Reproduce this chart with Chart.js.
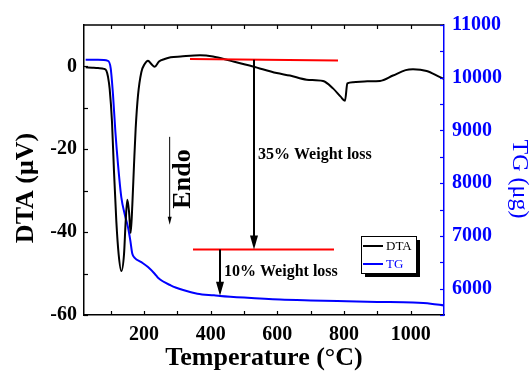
<!DOCTYPE html>
<html>
<head>
<meta charset="utf-8">
<script src="https://cdn.jsdelivr.net/npm/chart.js@4/dist/chart.umd.min.js"></script>
<style>
  html, body { margin: 0; padding: 0; background: #fff; }
  #wrap { width: 531px; height: 371px; }
</style>
</head>
<body>
<div id="wrap"><canvas id="c" width="531" height="371"></canvas></div>
<script>
// DTA curve (temperature in °C, signal in µV)
const dtaTemp = [25, 45, 62, 80, 87, 92, 97, 104, 110, 117, 124, 132, 140, 145, 150, 155, 160, 165, 170, 175, 182, 192, 202, 212, 222, 232, 245, 262, 280, 310, 368, 407, 458, 527, 598, 638, 688, 737, 767, 790, 803, 810, 827, 870, 908, 947, 985, 1007, 1048, 1088, 1100];
const dtaVal  = [-0.2, -0.3, -0.4, -0.6, -1.0, -2.5, -5.4, -13.4, -25.4, -37.4, -45.4, -49.4, -45.4, -37.4, -32.2, -35.0, -40.2, -33.4, -23.8, -15.0, -7.0, -1.4, 0.6, 1.4, 0.6, -0.1, 1.2, 1.8, 2.2, 2.4, 2.7, 2.4, 1.4, 0.0, -1.6, -2.2, -3.2, -3.5, -5.3, -7.3, -8.3, -4.1, -3.8, -3.6, -3.5, -2.2, -0.9, -0.7, -1.1, -2.6, -3.0];

// TG curve (temperature in °C, mass in µg)
const tgTemp = [25, 62, 92, 100, 107, 114, 122, 132, 142, 152, 159, 165, 172, 192, 212, 232, 242, 280, 320, 360, 410, 428, 500, 608, 700, 808, 900, 1007, 1060, 1100];
const tgVal  = [10340, 10340, 10320, 10183, 9680, 8987, 8358, 7730, 7415, 7164, 6911, 6660, 6585, 6503, 6409, 6283, 6208, 6062, 5968, 5905, 5873, 5862, 5830, 5792, 5775, 5760, 5748, 5735, 5715, 5680];

// red baselines (on TG axis)
const redUpperT = [338, 782];
const redUpperV = [10353, 10326];
const redLowerT = [347, 770];
const redLowerV = [6741, 6741];

// weight-loss arrows: [temperature, from TG, to TG]
const arrowLoss35 = [530, 10340, 6741];
const arrowLoss10 = [428, 6741, 5866];
// endo arrow on DTA axis: [temperature, from, to]
const arrowEndo = [277, -17, -38.2];

// ticks
const xMajor = [200, 400, 600, 800, 1000];
const xMinor = [100, 200, 300, 400, 500, 600, 700, 800, 900, 1000];
const yMajor = [-60, -40, -20, 0];
const yMinor = [-60, -50, -40, -30, -20, -10, 0];
const y1Major = [6000, 7000, 8000, 9000, 10000, 11000];
const y1Minor = [5500, 6000, 6500, 7000, 7500, 8000, 8500, 9000, 9500, 10000, 10500, 11000];

const SERIF = '"Liberation Serif", "Times New Roman", serif';
const BLUE = '#0000ff';

const toPts = (xs, ys) => xs.map((x, i) => ({ x: x, y: ys[i] }));

function arrowDown(ctx, x, y0, y1, w, headW, headL) {
  ctx.beginPath();
  ctx.moveTo(x, y0);
  ctx.lineTo(x, y1 - headL + 1);
  ctx.lineWidth = w;
  ctx.stroke();
  ctx.beginPath();
  ctx.moveTo(x, y1);
  ctx.lineTo(x - headW / 2, y1 - headL);
  ctx.lineTo(x + headW / 2, y1 - headL);
  ctx.closePath();
  ctx.fill();
}

const decorPlugin = {
  id: 'decor',
  afterDraw(chart) {
    const ctx = chart.ctx;
    const a = chart.chartArea;
    const xs = chart.scales.x, ys = chart.scales.y, y1s = chart.scales.y1;
    ctx.save();

    // top border
    ctx.strokeStyle = '#000';
    ctx.lineWidth = 1.5;
    ctx.beginPath();
    ctx.moveTo(a.left, a.top);
    ctx.lineTo(a.right, a.top);
    ctx.stroke();

    // inward ticks
    ctx.lineWidth = 1.2;
    xMinor.forEach(v => {
      const px = Math.round(xs.getPixelForValue(v)) + 0.5;
      ctx.beginPath();
      ctx.moveTo(px, a.bottom); ctx.lineTo(px, a.bottom - 4);
      ctx.moveTo(px, a.top); ctx.lineTo(px, a.top + 4);
      ctx.stroke();
    });
    yMinor.forEach(v => {
      const py = Math.round(ys.getPixelForValue(v)) + 0.5;
      ctx.beginPath();
      ctx.moveTo(a.left, py); ctx.lineTo(a.left + 4, py);
      ctx.stroke();
    });
    ctx.strokeStyle = BLUE;
    y1Minor.forEach(v => {
      const py = Math.round(y1s.getPixelForValue(v)) + 0.5;
      ctx.beginPath();
      ctx.moveTo(a.right, py); ctx.lineTo(a.right - 4, py);
      ctx.stroke();
    });

    // weight-loss arrows
    ctx.strokeStyle = '#000';
    ctx.fillStyle = '#000';
    arrowDown(ctx, xs.getPixelForValue(arrowLoss35[0]), y1s.getPixelForValue(arrowLoss35[1]),
      y1s.getPixelForValue(arrowLoss35[2]), 2, 8, 14);
    arrowDown(ctx, xs.getPixelForValue(arrowLoss10[0]), y1s.getPixelForValue(arrowLoss10[1]),
      y1s.getPixelForValue(arrowLoss10[2]), 2, 8, 14);
    arrowDown(ctx, xs.getPixelForValue(arrowEndo[0]), ys.getPixelForValue(arrowEndo[1]),
      ys.getPixelForValue(arrowEndo[2]), 1, 4, 8);

    // annotations
    ctx.fillStyle = '#000';
    ctx.textAlign = 'left';
    ctx.textBaseline = 'alphabetic';
    ctx.font = 'bold 16px ' + SERIF;
    ctx.fillText('35% Weight loss', 258, 159);
    ctx.fillText('10% Weight loss', 224, 276);

    ctx.save();
    ctx.translate(190, 179);
    ctx.rotate(-Math.PI / 2);
    ctx.textAlign = 'center';
    ctx.font = 'bold 26px ' + SERIF;
    ctx.fillText('Endo', 0, 0);
    ctx.restore();

    // legend box with shadow
    const lx = 361, ly = 236, lw = 55, lh = 37;
    ctx.fillStyle = '#000';
    ctx.fillRect(lx + 4, ly + 4, lw, lh);
    ctx.fillStyle = '#fff';
    ctx.fillRect(lx, ly, lw, lh);
    ctx.strokeStyle = '#000';
    ctx.lineWidth = 1;
    ctx.strokeRect(lx + 0.5, ly + 0.5, lw, lh);
    ctx.lineWidth = 2;
    ctx.beginPath(); ctx.moveTo(363, 246); ctx.lineTo(383, 246); ctx.stroke();
    ctx.strokeStyle = BLUE;
    ctx.beginPath(); ctx.moveTo(363, 264); ctx.lineTo(383, 264); ctx.stroke();
    ctx.font = '13px ' + SERIF;
    ctx.fillStyle = '#000';
    ctx.fillText('DTA', 386, 250);
    ctx.fillStyle = BLUE;
    ctx.fillText('TG', 386, 268);

    // axis titles
    ctx.fillStyle = '#000';
    ctx.textAlign = 'center';
    ctx.font = 'bold 26px ' + SERIF;
    ctx.fillText('Temperature (\u00B0C)', 264, 365);

    ctx.save();
    ctx.translate(33, 188);
    ctx.rotate(-Math.PI / 2);
    ctx.font = 'bold 26px ' + SERIF;
    ctx.fillText('DTA (\u03BCV)', 0, 0);
    ctx.restore();

    ctx.save();
    ctx.translate(513, 179);
    ctx.rotate(Math.PI / 2);
    ctx.fillStyle = BLUE;
    ctx.font = '24px ' + SERIF;
    ctx.fillText('TG (\u03BCg)', 0, 0);
    ctx.restore();

    ctx.restore();
  }
};

const tickFont = { family: SERIF, size: 20, weight: 'bold' };

new Chart(document.getElementById('c'), {
  type: 'line',
  data: {
    datasets: [
      {
        label: 'Upper baseline',
        data: toPts(redUpperT, redUpperV),
        yAxisID: 'y1',
        borderColor: '#ff0000',
        borderWidth: 2,
        pointRadius: 0
      },
      {
        label: 'Lower baseline',
        data: toPts(redLowerT, redLowerV),
        yAxisID: 'y1',
        borderColor: '#ff0000',
        borderWidth: 2,
        pointRadius: 0
      },
      {
        label: 'DTA',
        data: toPts(dtaTemp, dtaVal),
        yAxisID: 'y',
        borderColor: '#000',
        borderWidth: 2,
        pointRadius: 0,
        cubicInterpolationMode: 'monotone'
      },
      {
        label: 'TG',
        data: toPts(tgTemp, tgVal),
        yAxisID: 'y1',
        borderColor: BLUE,
        borderWidth: 2,
        pointRadius: 0,
        cubicInterpolationMode: 'monotone'
      }
    ]
  },
  options: {
    responsive: false,
    animation: false,
    events: [],
    layout: { padding: { top: 25, left: 0, right: 0, bottom: 0 } },
    plugins: {
      legend: { display: false },
      tooltip: { enabled: false }
    },
    scales: {
      x: {
        type: 'linear',
        position: 'bottom',
        min: 20,
        max: 1100,
        afterBuildTicks: s => { s.ticks = xMajor.map(v => ({ value: v })); },
        afterFit: s => { s.height = 56; },
        grid: { display: false, drawTicks: false },
        border: { display: true, color: '#000', width: 1.5 },
        ticks: { font: tickFont, color: '#000', padding: 8, maxRotation: 0, callback: v => String(v) }
      },
      y: {
        type: 'linear',
        position: 'left',
        min: -60,
        max: 10,
        afterBuildTicks: s => { s.ticks = yMajor.map(v => ({ value: v })); },
        afterFit: s => { s.width = 84; },
        grid: { display: false, drawTicks: false },
        border: { display: true, color: '#000', width: 1.5 },
        ticks: { font: tickFont, color: '#000', padding: 7 }
      },
      y1: {
        type: 'linear',
        position: 'right',
        min: 5500,
        max: 11000,
        afterBuildTicks: s => { s.ticks = y1Major.map(v => ({ value: v })); },
        afterFit: s => { s.width = 87; },
        grid: { display: false, drawTicks: false },
        border: { display: true, color: BLUE, width: 1.5 },
        ticks: { font: tickFont, color: BLUE, padding: 8, callback: v => String(v) }
      }
    }
  },
  plugins: [decorPlugin]
});
</script>
</body>
</html>
